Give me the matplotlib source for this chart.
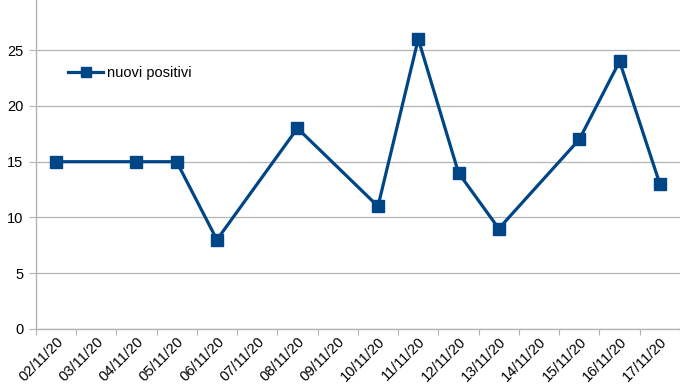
import matplotlib.pyplot as plt

plt.rcParams['font.family'] = ['Liberation Sans', 'DejaVu Sans']

# all dates on the category axis
dates = ['02/11/20', '03/11/20', '04/11/20', '05/11/20', '06/11/20', '07/11/20',
         '08/11/20', '09/11/20', '10/11/20', '11/11/20', '12/11/20', '13/11/20',
         '14/11/20', '15/11/20', '16/11/20', '17/11/20']
# dates that actually have a value
obs_dates = ['02/11/20', '04/11/20', '05/11/20', '06/11/20', '08/11/20', '10/11/20',
             '11/11/20', '12/11/20', '13/11/20', '15/11/20', '16/11/20', '17/11/20']
nuovi_positivi = [15, 15, 15, 8, 18, 11, 26, 14, 9, 17, 24, 13]

blue = '#004586'
grid_gray = '#b3b3b3'

fig = plt.figure(figsize=(6.8, 3.91), dpi=100)
ax = fig.add_axes([0.0525, 0.1586, 0.9475, 0.8414])

x = [dates.index(d) for d in obs_dates]
ax.plot(x, nuovi_positivi, color=blue, lw=2.3, marker='s', ms=8.5,
        label='nuovi positivi', zorder=3)

ax.set_xlim(-0.5, len(dates) - 0.5)
ax.set_ylim(0, 29.5)
ax.set_yticks([0, 5, 10, 15, 20, 25])
ax.yaxis.grid(True, color=grid_gray, lw=0.9)
ax.set_axisbelow(True)

# ticks sit between categories, labels at the centres
ax.set_xticks([i - 0.5 for i in range(len(dates) + 1)])
ax.set_xticklabels([])
ax.set_xticks(range(len(dates)), minor=True)
ax.set_xticklabels(dates, minor=True, rotation=45, ha='right', va='top',
                   rotation_mode='anchor', fontsize=10.5)
ax.tick_params(axis='x', which='minor', length=0, pad=4)
ax.tick_params(axis='x', which='major', length=4, color=grid_gray, direction='out')
ax.tick_params(axis='y', length=5, color=grid_gray, labelsize=10.5, pad=4)

for s in ['top', 'right']:
    ax.spines[s].set_visible(False)
for s in ['left', 'bottom']:
    ax.spines[s].set_color(grid_gray)
    ax.spines[s].set_linewidth(1)

ax.legend(loc='center left', bbox_to_anchor=(0.039, 0.778), frameon=False,
          handlelength=2.4, handletextpad=0.3, borderpad=0, fontsize=10.5,
          markerscale=0.85)

fig.savefig('out.png', dpi=100)
